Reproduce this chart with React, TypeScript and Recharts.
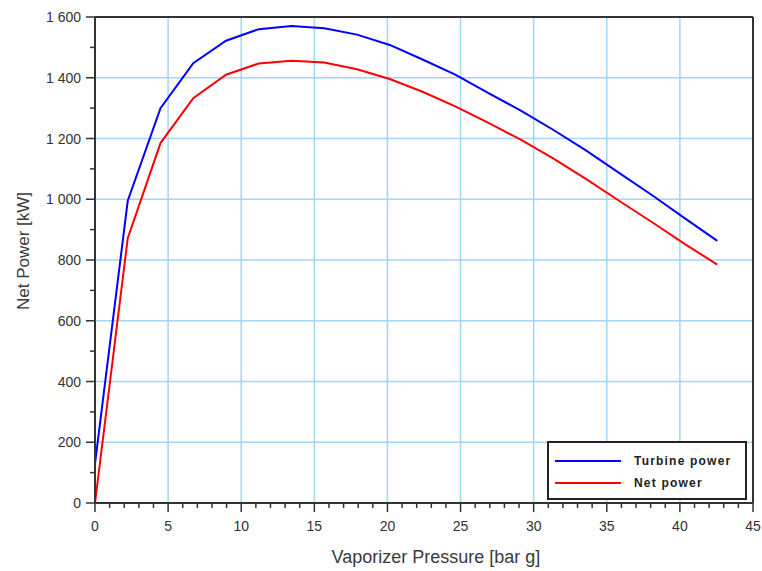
import {
  LineChart,
  Line,
  XAxis,
  YAxis,
  CartesianGrid,
  ReferenceLine,
  Legend,
} from 'recharts';

// vaporizer pressure [bar g]
const pressure = [
  0, 2.24, 4.48, 6.72, 8.96, 11.2, 13.44, 15.68, 17.92, 20.16, 22.4, 24.64, 26.88, 29.12, 31.36,
  33.6, 35.84, 38.08, 40.32, 42.56,
];
// turbine power [kW]
const turbinePower = [
  130, 995, 1300, 1448, 1522, 1560, 1570, 1563, 1542, 1508, 1460, 1410, 1350, 1292, 1228, 1160,
  1087, 1014, 938, 863,
];
// net power [kW]
const netPower = [
  0, 872, 1185, 1333, 1410, 1447, 1456, 1450, 1428, 1396, 1354, 1306, 1252, 1196, 1134, 1066, 995,
  925, 853, 785,
];

const xMajor = [0, 5, 10, 15, 20, 25, 30, 35, 40, 45];
const yMajor = [0, 200, 400, 600, 800, 1000, 1200, 1400, 1600];

const xMinor = Array.from({ length: 46 }, (_, i) => i);
const yMinor = Array.from({ length: 17 }, (_, i) => i * 100);

const data = pressure.map((p, i) => ({ p, turbine: turbinePower[i], net: netPower[i] }));

const FONT = '"Liberation Sans", Arial, sans-serif';
const GRID = '#a3d6f5';
const AXIS = '#333';

const fmt = (v: number) =>
  v >= 1000 ? `${Math.floor(v / 1000)} ${String(v % 1000).padStart(3, '0')}` : String(v);

function XTick(props: any) {
  const { x, y, payload } = props;
  const major = xMajor.includes(payload.value);
  return (
    <g>
      <line x1={x} x2={x} y1={y} y2={y + (major ? 9 : 5)} stroke={AXIS} strokeWidth={1.5} />
      {major && (
        <text x={x} y={y + 28} textAnchor="middle" fontSize={14} fill={AXIS} fontFamily={FONT}>
          {payload.value}
        </text>
      )}
    </g>
  );
}

function YTick(props: any) {
  const { x, y, payload } = props;
  const major = yMajor.includes(payload.value);
  return (
    <g>
      <line x1={x} x2={x - (major ? 9 : 5)} y1={y} y2={y} stroke={AXIS} strokeWidth={1.5} />
      {major && (
        <text x={x - 14} y={y + 5} textAnchor="end" fontSize={14} fill={AXIS} fontFamily={FONT}>
          {fmt(payload.value)}
        </text>
      )}
    </g>
  );
}

function LegendBox() {
  const items = [
    { label: 'Turbine power', color: '#0000ff' },
    { label: 'Net power', color: '#ff0000' },
  ];
  return (
    <div
      style={{
        boxSizing: 'border-box',
        width: 200,
        height: 59,
        border: '2px solid #222',
        background: '#fff',
        padding: '7px 0 0 6px',
        fontFamily: FONT,
      }}
    >
      {items.map((it) => (
        <div key={it.label} style={{ display: 'flex', alignItems: 'center', height: 22 }}>
          <span style={{ display: 'inline-block', width: 66, height: 2, background: it.color }} />
          <span
            style={{
              marginLeft: 13,
              fontSize: 12,
              fontWeight: 'bold',
              letterSpacing: 1.2,
              color: '#222',
            }}
          >
            {it.label}
          </span>
        </div>
      ))}
    </div>
  );
}

export default function App() {
  return (
    <div style={{ position: 'absolute', left: 0, top: 0, background: '#fff' }}>
      <LineChart width={762} height={571} data={data} margin={{ top: 17, right: 9, left: 0, bottom: 0 }}>
        <CartesianGrid
          stroke={GRID}
          strokeWidth={1.5}
          horizontalValues={yMajor}
          verticalValues={xMajor}
        />
        <XAxis
          type="number"
          dataKey="p"
          domain={[0, 45]}
          ticks={xMinor}
          interval={0}
          height={68}
          tickSize={0}
          tickMargin={0}
          tickLine={false}
          tick={<XTick />}
          axisLine={{ stroke: AXIS, strokeWidth: 2 }}
        />
        <YAxis
          type="number"
          domain={[0, 1600]}
          ticks={yMinor}
          interval={0}
          width={95}
          tickSize={0}
          tickMargin={0}
          tickLine={false}
          tick={<YTick />}
          axisLine={{ stroke: AXIS, strokeWidth: 2 }}
        />
        <ReferenceLine y={1600} stroke={AXIS} strokeWidth={2} />
        <ReferenceLine x={45} stroke={AXIS} strokeWidth={2} />
        <Line
          dataKey="turbine"
          name="Turbine power"
          stroke="#0000ff"
          strokeWidth={2}
          dot={false}
          type="linear"
          isAnimationActive={false}
        />
        <Line
          dataKey="net"
          name="Net power"
          stroke="#ff0000"
          strokeWidth={2}
          dot={false}
          type="linear"
          isAnimationActive={false}
        />
        <Legend
          layout="vertical"
          align="center"
          verticalAlign="middle"
          content={<LegendBox />}
          wrapperStyle={{ position: 'absolute', left: 547, top: 441, width: 200, height: 59 }}
        />
        <text
          x={436}
          y={563}
          textAnchor="middle"
          fontSize={18}
          fill="#3a3a3a"
          fontFamily={FONT}
        >
          Vaporizer Pressure [bar g]
        </text>
        <text
          x={29}
          y={251}
          textAnchor="middle"
          fontSize={17}
          fill="#3a3a3a"
          fontFamily={FONT}
          transform="rotate(-90 29 251)"
        >
          Net Power [kW]
        </text>
      </LineChart>
    </div>
  );
}
